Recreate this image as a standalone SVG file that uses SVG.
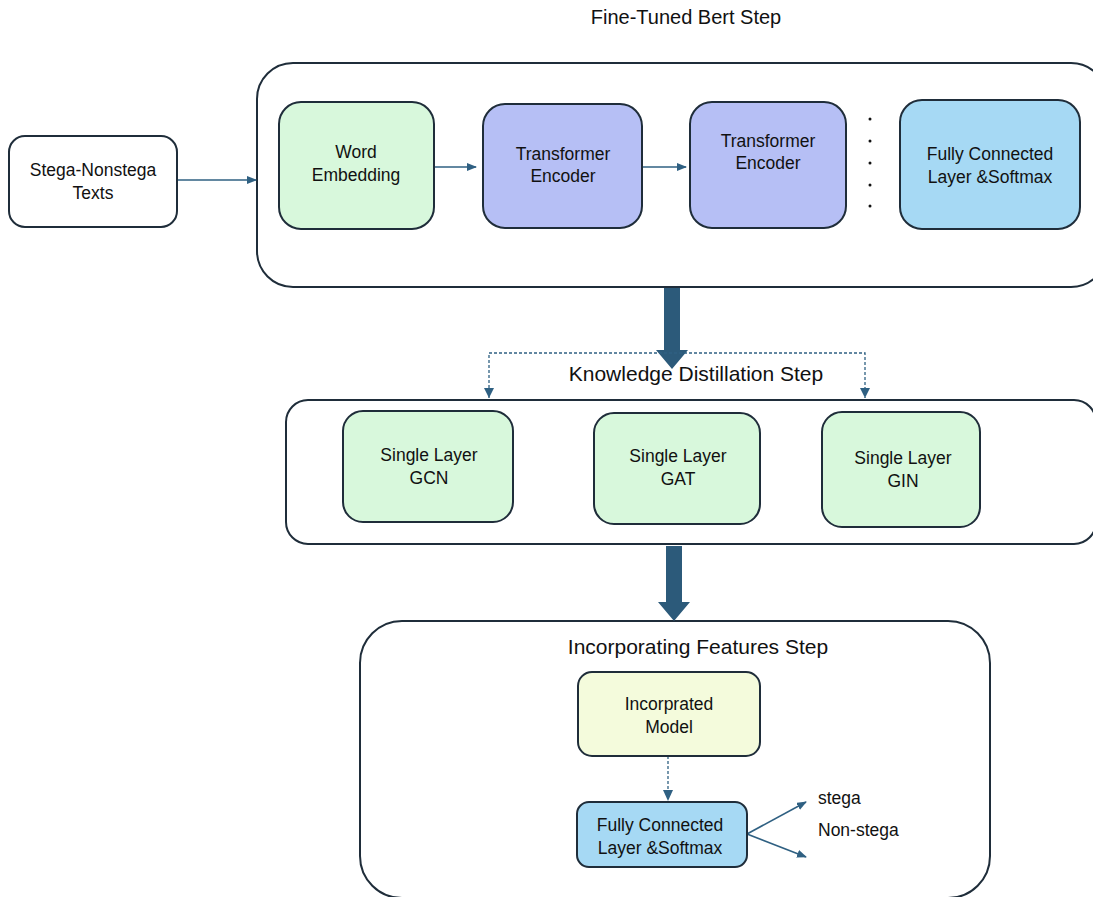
<svg xmlns="http://www.w3.org/2000/svg" width="1093" height="897" viewBox="0 0 1093 897">
<style>
text{font-family:"Liberation Sans",Arial,sans-serif;fill:#111;text-anchor:middle}
.t{font-size:17.5px}
.h{font-size:21px}
.box{stroke:#1f2d3a;stroke-width:2}
.con{stroke:#2f6082;stroke-width:1.6;fill:none}
.dash{stroke:#2f6082;stroke-width:1.3;fill:none;stroke-dasharray:3 2}
.big{fill:#2c5a7a}
</style>
<defs>
<marker id="ah" markerWidth="10" markerHeight="8" refX="9" refY="4" orient="auto" markerUnits="userSpaceOnUse">
<path d="M0,0 L10,4 L0,8 Z" fill="#2f6082"/>
</marker>
</defs>
<rect width="1093" height="897" fill="#fff"/>

<g id="containers">
<rect id="bert-step" class="box" x="257" y="63" width="850" height="224" rx="36" fill="#fff"/>
<text class="h" x="686" y="24" style="font-size:20px">Fine-Tuned Bert Step</text>
<rect id="kd-step" class="box" x="286" y="400" width="810" height="144" rx="22" fill="#fff"/>
<rect id="inc-step" class="box" x="360" y="621" width="630" height="277" rx="42" fill="#fff"/>
<text class="h" x="698" y="654">Incorporating Features Step</text>
</g>

<g id="connectors">
<line class="con" x1="177" y1="180" x2="256" y2="180" marker-end="url(#ah)"/>
<line class="con" x1="434" y1="167" x2="476" y2="167" marker-end="url(#ah)"/>
<line class="con" x1="642" y1="167" x2="686" y2="167" marker-end="url(#ah)"/>
<path class="big" d="M664,288 H680 V350 H688 L672,369 L656,350 H664 Z"/>
<polyline class="dash" points="489,398 489,353 865,353 865,398"/>
<path d="M484,388 L494,388 L489,398 Z" fill="#2f6082"/>
<path d="M860,388 L870,388 L865,398 Z" fill="#2f6082"/>
<path class="big" d="M666,546 H682 V602 H690 L674,621 L658,602 H666 Z"/>
<line class="dash" x1="668" y1="756" x2="668" y2="790"/>
<path d="M663,790 L673,790 L668,801 Z" fill="#2f6082"/>
<line class="con" x1="747" y1="834" x2="806" y2="802" marker-end="url(#ah)"/>
<line class="con" x1="747" y1="834" x2="806" y2="857" marker-end="url(#ah)"/>
</g>

<g id="n-input">
<rect class="box" x="9" y="136" width="168" height="91" rx="16" fill="#fff"/>
<text class="t" x="93" y="176">Stega-Nonstega</text>
<text class="t" x="93" y="199">Texts</text>
</g>
<g id="n-word">
<rect class="box" x="279" y="102" width="155" height="127" rx="22" fill="#d8f8dc"/>
<text class="t" x="356" y="158">Word</text>
<text class="t" x="356" y="181">Embedding</text>
</g>
<g id="n-enc1">
<rect class="box" x="483" y="104" width="159" height="124" rx="22" fill="#b6bff5"/>
<text class="t" x="563" y="160">Transformer</text>
<text class="t" x="563" y="182">Encoder</text>
</g>
<g id="n-enc2">
<rect class="box" x="690" y="102" width="156" height="126" rx="22" fill="#b6bff5"/>
<text class="t" x="768" y="147">Transformer</text>
<text class="t" x="768" y="169">Encoder</text>
</g>
<g id="dots" fill="#111">
<circle cx="870" cy="119" r="1.5"/>
<circle cx="870" cy="141" r="1.5"/>
<circle cx="870" cy="163" r="1.5"/>
<circle cx="870" cy="185" r="1.5"/>
<circle cx="870" cy="206" r="1.5"/>
</g>
<g id="n-fc1">
<rect class="box" x="900" y="100" width="180" height="129" rx="22" fill="#a6d9f4"/>
<text class="t" x="990" y="160">Fully Connected</text>
<text class="t" x="990" y="183">Layer &amp;Softmax</text>
</g>

<text class="h" x="696" y="381">Knowledge Distillation Step</text>

<g id="n-gcn">
<rect class="box" x="343" y="411" width="170" height="111" rx="20" fill="#d8f8dc"/>
<text class="t" x="429" y="461">Single Layer</text>
<text class="t" x="429" y="484">GCN</text>
</g>
<g id="n-gat">
<rect class="box" x="594" y="413" width="166" height="111" rx="20" fill="#d8f8dc"/>
<text class="t" x="678" y="462">Single Layer</text>
<text class="t" x="678" y="485">GAT</text>
</g>
<g id="n-gin">
<rect class="box" x="822" y="412" width="158" height="115" rx="20" fill="#d8f8dc"/>
<text class="t" x="903" y="464">Single Layer</text>
<text class="t" x="903" y="487">GIN</text>
</g>

<g id="n-inc">
<rect class="box" x="578" y="672" width="182" height="84" rx="14" fill="#f4fbdc"/>
<text class="t" x="669" y="710">Incorprated</text>
<text class="t" x="669" y="733">Model</text>
</g>
<g id="n-fc2">
<rect class="box" x="577" y="802" width="170" height="65" rx="12" fill="#a6d9f4"/>
<text class="t" x="660" y="831">Fully Connected</text>
<text class="t" x="660" y="854">Layer &amp;Softmax</text>
</g>
<text class="t" x="818" y="804" style="text-anchor:start">stega</text>
<text class="t" x="818" y="836" style="text-anchor:start">Non-stega</text>
</svg>
